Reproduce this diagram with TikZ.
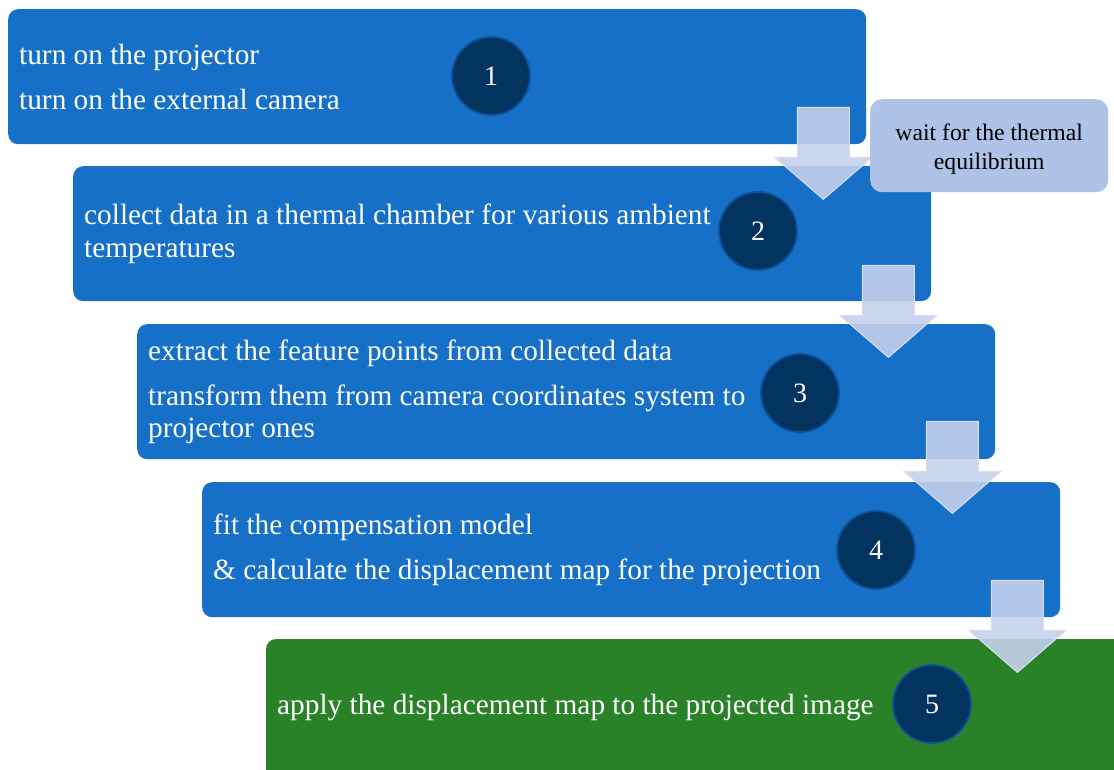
\documentclass[tikz,border=0pt]{standalone}
\usepackage{fontspec}
\setmainfont{Liberation Serif}
\usetikzlibrary{calc}
\definecolor{stepblue}{HTML}{1670C8}
\definecolor{stepgreen}{HTML}{2A8228}
\definecolor{badgefill}{HTML}{03345F}
\definecolor{badgeline}{HTML}{0B5299}
\definecolor{arrowfill}{HTML}{C5D0EB}
\definecolor{arrowline}{HTML}{D8DEF0}
\definecolor{notefill}{HTML}{AFC3E8}
\tikzset{
  stepbox/.style={rectangle, rounded corners=10pt, fill=stepblue, draw=none,
    minimum width=858pt, minimum height=135pt, anchor=north west, inner sep=0pt},
  steptext/.style={anchor=west, align=left, text=white, inner sep=0pt,
    font=\fontsize{29.3}{32.5}\selectfont},
  badge/.style={circle, fill=badgefill, draw=badgeline, line width=1.8pt,
    minimum size=78pt, inner sep=0pt, text=white,
    font=\fontsize{28}{30}\selectfont},
  notebox/.style={rectangle, rounded corners=12pt, fill=notefill, draw=none,
    minimum width=238pt, minimum height=93pt, anchor=north west, inner sep=0pt},
  notetext/.style={align=center, inner sep=0pt, font=\fontsize{23.7}{29}\selectfont},
  downarrow/.pic={
    \path[fill=arrowfill, fill opacity=0.9, draw=arrowline, line width=1pt]
      (-26,0) -- (26,0) -- (26,50) -- (48.5,50) -- (0,92) -- (-48.5,50)
      -- (-26,50) -- cycle;
  }
}
\begin{document}
\begin{tikzpicture}[x=1pt, y=-1pt]
\useasboundingbox (0,0) rectangle (1114,769);
\clip (0,0) rectangle (1114,769);

% the five steps
\node[stepbox] (b1) at (8,9) {};
\node[stepbox] (b2) at (73,166) {};
\node[stepbox] (b3) at (137,324) {};
\node[stepbox] (b4) at (202,482) {};
\path[fill=stepgreen, rounded corners=10pt] (266,790) -- (266,639) -- (1130,639) -- (1130,790) -- cycle;
\coordinate (b5) at (266,639);
\coordinate (b5w) at (266,707);

% step texts
\node[steptext] (t1) at ($(b1.west)+(11,0)$) {turn on the projector\\[12.5pt]turn on the external camera};
\node[steptext] (t2) at ($(b2.west)+(11,0)$) {collect data in a thermal chamber for various ambient\\temperatures};
\node[steptext] (t3) at ($(b3.west)+(11,0)$) {extract the feature points from collected data\\[12.5pt]transform them from camera coordinates system to\\projector ones};
\node[steptext] (t4) at ($(b4.west)+(11,0)$) {fit the compensation model\\[12.5pt]\&\ calculate the displacement map for the projection};
\node[steptext] (t5) at ($(b5w)+(11,0)$) {apply the displacement map to the projected image};

% numbered badges
\node[badge] (n1) at (491,76) {1};
\node[badge] (n2) at (758,231) {2};
\node[badge] (n3) at (800,393) {3};
\node[badge] (n4) at (876,550) {4};
\node[badge] (n5) at (932,704) {5};

% block arrows between consecutive steps
\pic at ($(b1.south east)+(-43,-37)$) {downarrow};
\pic at ($(b2.south east)+(-43,-36)$) {downarrow};
\pic at ($(b3.south east)+(-43,-38)$) {downarrow};
\pic at ($(b4.south east)+(-43,-37)$) {downarrow};

% side note
\node[notebox] (note) at (870,99) {};
\node[notetext] (notelabel) at ($(note.center)+(0,3)$) {wait for the thermal\\equilibrium};
\end{tikzpicture}
\end{document}
